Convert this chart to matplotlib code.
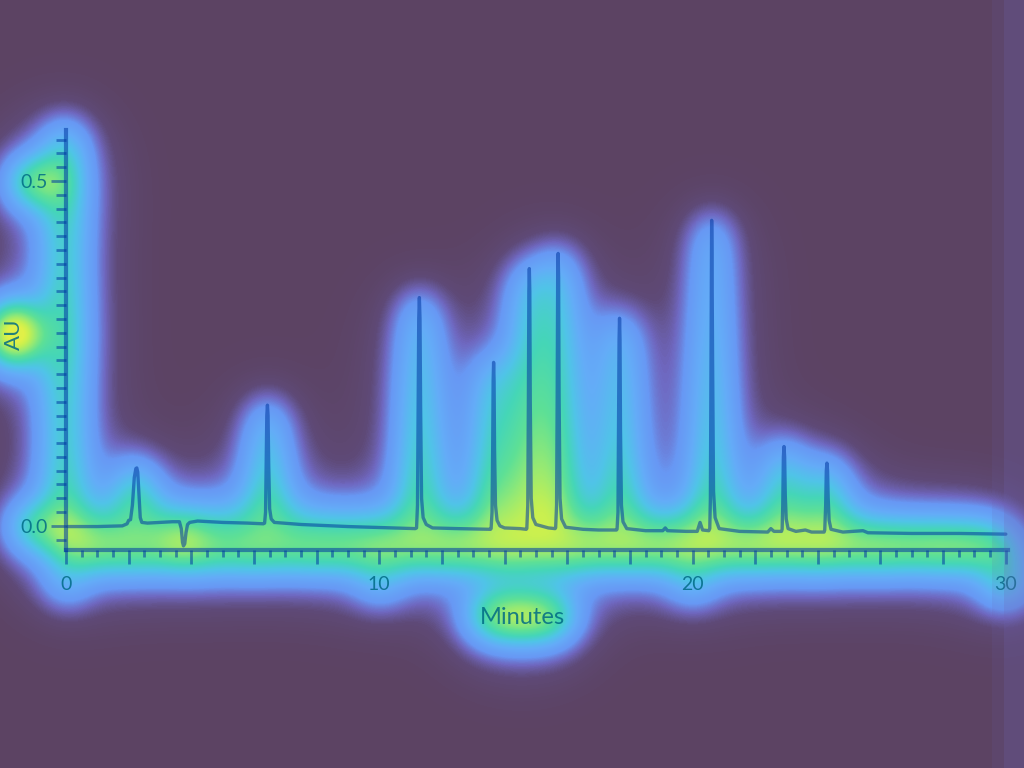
import numpy as np
import matplotlib
matplotlib.use('Agg')
import matplotlib.pyplot as plt
from matplotlib.ticker import MultipleLocator, FixedLocator, FuncFormatter
from matplotlib.colors import LinearSegmentedColormap
from matplotlib.patches import Rectangle

# ---------------- data ----------------
time_min = [
    0.05, 1.00, 1.80, 1.95, 2.00, 2.06, 2.12, 2.18, 2.23, 2.26, 2.29, 2.33, 2.37, 2.42,
    2.60, 3.00, 3.40, 3.62, 3.68, 3.72, 3.75, 3.79, 3.83, 3.88, 3.95, 4.20, 5.00, 5.80,
    6.30, 6.34, 6.37, 6.39, 6.41, 6.43, 6.45, 6.47, 6.50, 6.55, 6.65, 7.50, 9.00, 10.50,
    11.15, 11.19, 11.22, 11.24, 11.26, 11.28, 11.30, 11.32, 11.35, 11.40, 11.50, 11.70,
    12.50, 13.55, 13.57, 13.60, 13.62, 13.635, 13.65, 13.665, 13.68, 13.71, 13.76, 13.85,
    14.00, 14.50, 14.69, 14.71, 14.74, 14.76, 14.775, 14.79, 14.805, 14.82, 14.85, 14.90,
    15.00, 15.40, 15.61, 15.63, 15.66, 15.68, 15.695, 15.71, 15.725, 15.74, 15.77, 15.82,
    15.95, 16.50, 17.00, 17.57, 17.59, 17.62, 17.64, 17.655, 17.67, 17.685, 17.70, 17.73,
    17.78, 17.90, 18.50, 19.05, 19.13, 19.20, 19.80, 20.15, 20.24, 20.32, 20.52, 20.55,
    20.57, 20.59, 20.60, 20.61, 20.62, 20.64, 20.67, 20.72, 20.85, 21.50, 22.40, 22.50,
    22.60, 22.84, 22.86, 22.88, 22.90, 22.92, 22.94, 22.96, 22.99, 23.05, 23.30, 23.60,
    23.80, 24.20, 24.22, 24.25, 24.27, 24.29, 24.31, 24.33, 24.36, 24.42, 24.80, 25.44,
    25.60, 27.00, 28.50, 30.00,
]
absorbance = [
    -0.001, -0.001, 0.000, 0.003, 0.008, 0.009, 0.030, 0.070, 0.083, 0.084, 0.078, 0.045, 0.012, 0.005,
    0.004, 0.005, 0.006, 0.006, -0.004, -0.024, -0.029, -0.026, -0.010, 0.002, 0.005, 0.007, 0.005, 0.004,
    0.003, 0.004, 0.020, 0.090, 0.160, 0.175, 0.160, 0.090, 0.025, 0.010, 0.005, 0.002, -0.001, -0.003,
    -0.004, -0.003, 0.030, 0.160, 0.300, 0.331, 0.300, 0.170, 0.040, 0.012, 0.002, -0.003,
    -0.004, -0.005, -0.004, 0.020, 0.110, 0.210, 0.237, 0.210, 0.110, 0.030, 0.008, 0.000,
    -0.003, -0.004, -0.005, -0.004, 0.030, 0.180, 0.340, 0.373, 0.340, 0.180, 0.040, 0.012,
    0.002, -0.003, -0.004, -0.003, 0.030, 0.190, 0.360, 0.395, 0.360, 0.190, 0.040, 0.010,
    -0.002, -0.005, -0.006, -0.006, -0.005, 0.020, 0.150, 0.270, 0.301, 0.270, 0.140, 0.030,
    0.006, -0.004, -0.007, -0.007, -0.003, -0.007, -0.008, -0.008, 0.005, -0.006, -0.007, -0.004,
    0.040, 0.260, 0.400, 0.443, 0.400, 0.240, 0.050, 0.012, -0.004, -0.008, -0.009, -0.004,
    -0.008, -0.008, -0.005, 0.030, 0.100, 0.115, 0.100, 0.045, 0.010, -0.004, -0.008, -0.006,
    -0.009, -0.009, -0.006, 0.030, 0.080, 0.091, 0.080, 0.040, 0.008, -0.005, -0.009, -0.007,
    -0.010, -0.011, -0.011, -0.012,
]
x_tick_labels = [0, 10, 20, 30]
y_tick_labels = [0.0, 0.5]
x_label = "Minutes"
y_label = "AU"

W, H, DPI = 1024, 768, 100
FONT = ['Lato', 'DejaVu Sans']
BG = '#5c4363'

# glow strength of each text item in the saliency-style overlay (ink pass only)
XLAB_GLOW = {0: 0.35, 10: 0.1, 20: 0.1, 30: 0.4}
YLAB_GLOW = {0.0: 0.5, 0.5: 0.75}


def draw_chart(fig, line_col, text_col, ink=False):
    ax = fig.add_axes([66 / W, 1 - 550 / H, (1008 - 66) / W, (550 - 130) / H])
    ax.set_facecolor('none')
    ax.plot(time_min, absorbance, color=line_col, lw=2.6 if ink else 2.4,
            solid_joinstyle='round', solid_capstyle='round')
    ax.set_xlim(0, 30.07)
    ax.set_ylim(-0.035, 0.574)
    for s in ['top', 'right']:
        ax.spines[s].set_visible(False)
    ax.spines['left'].set_color(line_col)
    ax.spines['bottom'].set_color(line_col)
    ax.spines['left'].set_linewidth(4 if ink else 3)
    ax.spines['bottom'].set_linewidth(5 if ink else 3)
    ax.xaxis.set_major_locator(MultipleLocator(2))
    ax.xaxis.set_minor_locator(MultipleLocator(0.5))
    ax.xaxis.set_major_formatter(FuncFormatter(
        lambda v, p: f"{int(round(v))}" if int(round(v)) in x_tick_labels else ""))
    ax.yaxis.set_major_locator(FixedLocator(y_tick_labels))
    ax.yaxis.set_minor_locator(MultipleLocator(0.02))
    ax.yaxis.set_major_formatter(FuncFormatter(lambda v, p: f"{v:.1f}"))
    ax.tick_params(axis='both', which='both', direction='out', color=line_col,
                   labelcolor=text_col, width=2)
    ax.tick_params(axis='x', which='major', length=10, pad=9, labelsize=14)
    ax.tick_params(axis='x', which='minor', length=5)
    ax.tick_params(axis='y', which='major', length=11, pad=2, labelsize=14)
    ax.tick_params(axis='y', which='minor', length=7)
    fig.canvas.draw()
    for lab in ax.get_xticklabels():
        lab.set_fontfamily(FONT)
        if ink and lab.get_text():
            g = XLAB_GLOW.get(int(lab.get_text()), 0.2)
            lab.set_bbox(dict(facecolor='black', alpha=g, edgecolor='none', pad=1))
    for lab in ax.get_yticklabels():
        lab.set_fontfamily(FONT)
        if ink and lab.get_text():
            g = YLAB_GLOW.get(float(lab.get_text()), 0.5)
            lab.set_bbox(dict(facecolor='black', alpha=g, edgecolor='none', pad=1))
    kw = dict(facecolor='black', edgecolor='none', pad=2)
    fig.text(522 / W, 1 - 617 / H, x_label, ha='center', va='center', fontsize=17,
             color=text_col, family=FONT,
             bbox=dict(alpha=0.4, **kw) if ink else None)
    fig.text(14 / W, 1 - 334 / H, y_label, ha='center', va='center', fontsize=16,
             rotation=90, color=text_col, family=FONT,
             bbox=dict(alpha=1.0, **kw) if ink else None)
    return ax


def gblur(a, s):
    pad = int(4 * s)
    A = np.pad(a, pad)
    fy = np.fft.fftfreq(A.shape[0])[:, None]
    fx = np.fft.rfftfreq(A.shape[1])[None, :]
    K = np.exp(-2 * (np.pi * s) ** 2 * (fx ** 2 + fy ** 2))
    out = np.fft.irfft2(np.fft.rfft2(A) * K, s=A.shape)
    return out[pad:-pad, pad:-pad]


# ---- pass 1: render the chart as ink to derive the saliency-style heat overlay
fig0 = plt.figure(figsize=(W / DPI, H / DPI), dpi=DPI, facecolor='white')
draw_chart(fig0, 'black', 'black', ink=True)
fig0.canvas.draw()
buf = np.asarray(fig0.canvas.buffer_rgba())[..., :3].astype(float)
plt.close(fig0)
ink = 1.0 - buf.mean(axis=2) / 255.0
heat = gblur(ink, 19) + 0.7 * gblur(ink, 40)
heat = np.clip(heat / 0.40, 0, 1)

heat_cmap = LinearSegmentedColormap.from_list('heat', [
    (0.00, '#5c4363'), (0.06, '#5f4a78'), (0.12, '#6f68c0'), (0.19, '#6898f4'),
    (0.32, '#64acf8'), (0.45, '#50c4e8'), (0.58, '#45d6b8'), (0.70, '#5ee096'),
    (0.82, '#98ea72'), (0.93, '#c8f050'), (1.00, '#e0f048')])
rgb = heat_cmap(heat)

# ---- pass 2: final figure
fig = plt.figure(figsize=(W / DPI, H / DPI), dpi=DPI, facecolor=BG)
bg = fig.add_axes([0, 0, 1, 1])
bg.imshow(rgb, aspect='auto', interpolation='bilinear')
bg.set_axis_off()
# lighter strip along the right edge of the picture
fig.patches.append(Rectangle((992 / W, 0), 12 / W, 1, transform=fig.transFigure,
                             facecolor='#6c62b0', alpha=0.12, edgecolor='none'))
fig.patches.append(Rectangle((1004 / W, 0), 20 / W, 1, transform=fig.transFigure,
                             facecolor='#6c62b0', alpha=0.3, edgecolor='none'))
draw_chart(fig, (0.0, 0.22, 0.64, 0.55), (0.0, 0.42, 0.52, 0.85))
fig.savefig('out.png', dpi=DPI, facecolor=BG)
